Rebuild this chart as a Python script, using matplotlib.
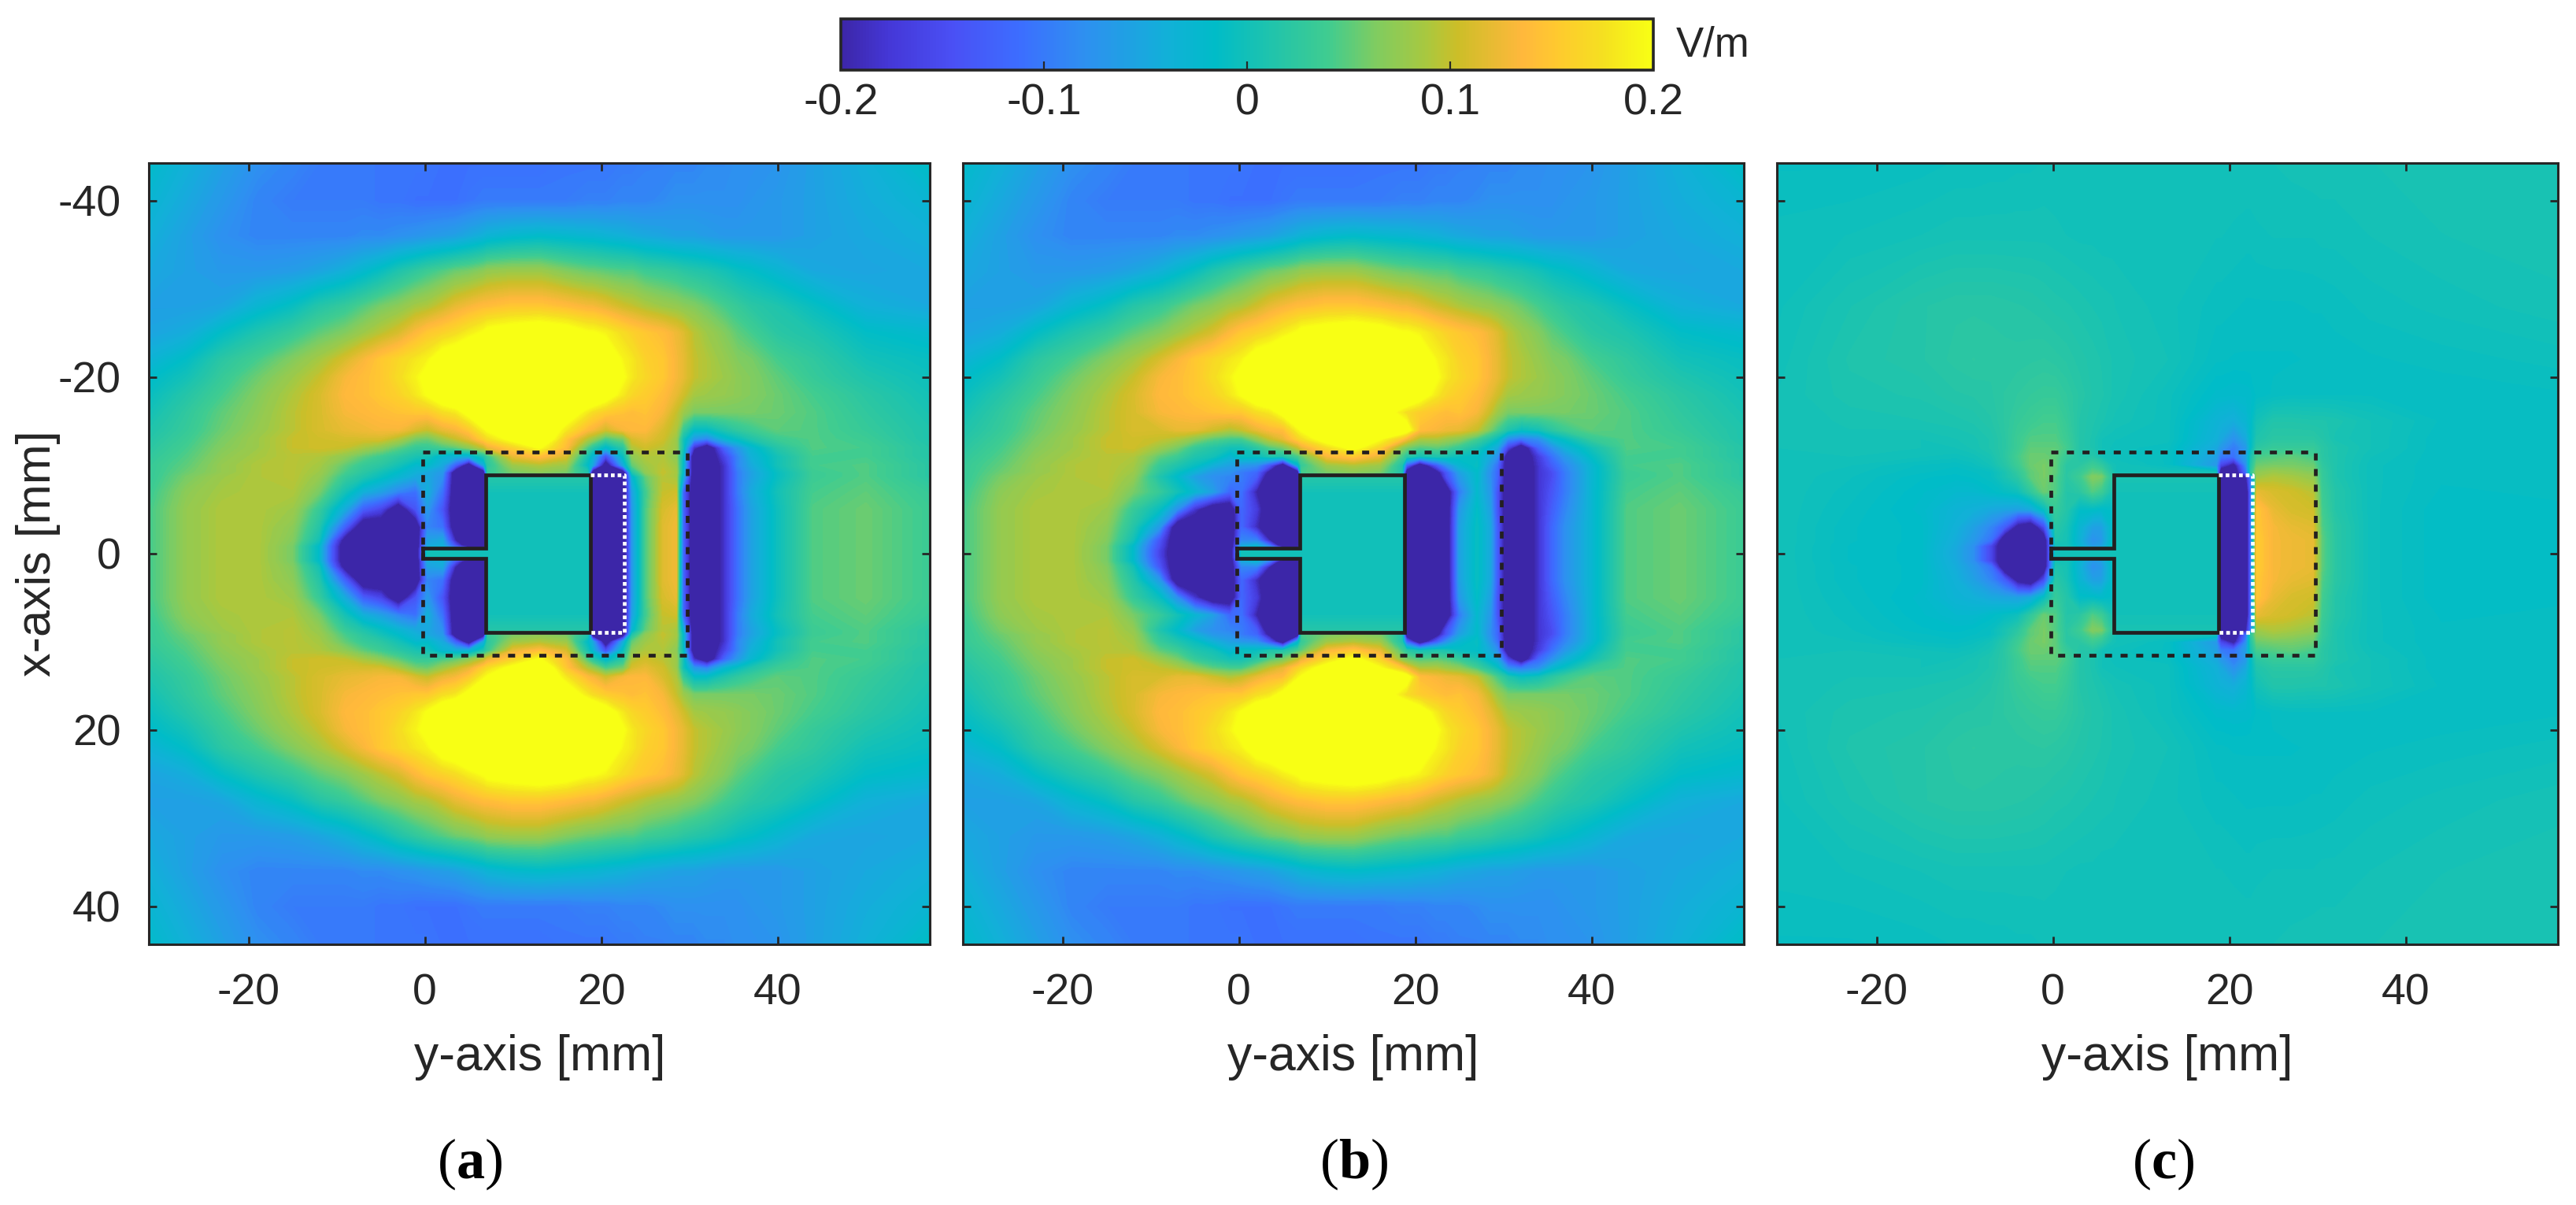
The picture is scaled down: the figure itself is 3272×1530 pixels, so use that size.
import numpy as np
import matplotlib
matplotlib.use("Agg")
import matplotlib.pyplot as plt
from matplotlib.colors import LinearSegmentedColormap, Normalize
from matplotlib.cm import ScalarMappable

plt.rcParams['font.family'] = ['Liberation Sans', 'DejaVu Sans']
plt.rcParams['mathtext.fontset'] = 'custom'
plt.rcParams['mathtext.rm'] = 'Liberation Serif'
plt.rcParams['mathtext.bf'] = 'Liberation Serif:bold'

W, H = 3273, 1530
INK = '#262626'
LINE = '#231f20'

# colour stops
cmap_pos = [0, 0.06, 0.137, 0.22, 0.30, 0.40, 0.46, 0.50, 0.60, 0.66, 0.72, 0.76, 0.84, 0.88, 0.94, 1]
cmap_col = ['#3c26a8', '#4538d8', '#4a50f5', '#3c6eff', '#2e90f0', '#12b0d8', '#00bcc8', '#12c0b8',
            '#40cc90', '#80cc60', '#a8c840', '#ccbe28', '#ffb83c', '#ffc830', '#f5e020', '#f8ff14']

# field values in 0.01 V/m, rows run from the panel edge to the feed line, the lower half mirrors them
y_a = [-31.25, -27, -23, -19, -15, -12, -9, -7, -5, -3, -1, 0.3, 2, 3.5, 5, 6.7, 7.1, 10, 13,
       16, 18.5, 19, 20.5, 22.5, 23.5, 25, 27, 28.5, 29.3, 30.5, 32, 34, 35.5, 37, 40, 44, 50, 57.25]
x_a = [44.3, 40, 36, 32, 28, 25, 22, 20, 18, 16, 14, 13, 12, 11, 10, 9.2, 8.7, 7, 5, 3, 1.5, 0.85, 0.35]

field_a = [
    [-2, -4, -6, -8, -9, -10, -10, -10, -10.5, -10.5, -10.5, -10.5, -11, -11, -11, -11, -11, -11, -11,
     -10.5, -10.5, -10.5, -10.5, -10, -10, -9.5, -9.5, -9, -9, -9, -8.5, -8.5, -8, -8, -7.5, -6, -4, -1.5],
    [-3, -5, -7, -9, -10, -10, -10, -10, -10.5, -10.5, -11, -11, -11, -11, -10.5, -10, -10, -10, -10,
     -10, -9.5, -9.5, -9.5, -9, -9, -9, -8.5, -8, -8, -8, -8, -8, -8, -7.5, -7, -6, -4.5, -3],
    [-4, -6, -8, -9, -9, -9, -9, -8.5, -8.5, -8, -7.5, -7, -6.5, -6, -5, -4, -3.5, -2.5, -2,
     -2.5, -3, -3, -3.5, -4, -4.5, -5, -5.5, -6, -6, -6, -6.5, -7, -7, -7, -7, -6, -5, -4],
    [-5, -6, -7, -7, -6.5, -5.5, -4, -2.5, -1, 1, 2.5, 3.5, 4.5, 5.5, 6, 7, 7.5, 8, 8,
     6.5, 5.5, 5.5, 5, 4.5, 4.5, 3.5, 3, 2.5, 2, 1.5, 1, 0, -1, -1.5, -3, -5, -5.5, -5],
    [-6, -6, -5.5, -3, -1, 1.5, 3, 4.5, 6, 7, 8.5, 9, 10.5, 12, 13, 14, 14, 15, 15,
     14, 13, 13, 12, 10.5, 10, 9, 8, 7.5, 7, 6.5, 5.5, 4, 3, 2, 1, -1, -4, -5],
    [-5.5, -4.5, -1.5, 1, 3, 5, 6.5, 8, 9.5, 11, 13.5, 15, 16, 17, 18.5, 20, 21, 22, 23,
     22, 20, 20, 19, 17, 16, 15, 14, 12.5, 11.5, 9.5, 8, 6.5, 5, 4, 2, 1, -1.5, -2.5],
    [-3.5, -1.5, 2, 4, 6.5, 8.5, 11, 13, 15, 16.5, 18, 19, 22, 23, 25, 25, 25, 25, 25,
     25, 25, 25, 23, 19, 18, 16, 15, 13, 12, 10, 9, 7.5, 6.5, 6, 4, 2.5, 0, -1],
    [-2, 0, 3, 5.5, 8, 10, 13, 14, 15, 17, 19, 21, 24, 25, 25, 25, 25, 25, 25,
     25, 25, 25, 24, 20, 18, 16.5, 15, 13, 12, 10, 9, 8, 7, 6.5, 5, 3, 1, -0.5],
    [-1, 1.5, 4, 6.5, 9, 11, 13.5, 14, 15, 16, 18, 20, 23, 25, 25, 25, 25, 25, 25,
     25, 25, 25, 22, 18, 16.5, 15.5, 14, 12, 10.5, 8.5, 8, 7.5, 7, 6.5, 5.5, 4, 2, 0],
    [0, 2.5, 5, 7, 9.5, 11, 13, 13.5, 14, 14.5, 15, 15, 17, 18, 21, 25, 25, 25, 25,
     23, 18, 17, 15.5, 14.5, 14, 14.5, 13, 10, 8, 6, 6, 6, 6, 6, 5.5, 4.5, 2.5, 0.5],
    [1, 3, 5.5, 7.5, 9.5, 11, 12, 12.5, 13, 13, 11, 10, 12, 13, 15, 19, 20, 23, 25,
     18, 13.5, 13, 10.5, 13, 13.5, 13.5, 11, 9, 3, -1.5, -1.5, 1, 2.5, 3.5, 5, 4.5, 3, 1],
    [1.5, 3.5, 6, 8, 10, 10.5, 11, 11, 11, 9, 6, 5.5, 8, 10, 12, 16, 17, 21, 25,
     15, 9, 8, 4, 6, 11, 12, 10.5, 8, 0, -7, -9, -3, -1, 1, 3.5, 4.5, 3.5, 1],
    [2, 4, 6.5, 8, 10, 10.5, 10, 8.5, 7, 5, 3, 3, 4, 5, 7, 10, 12, 16, 20,
     14, 4, 2, -2.5, 2, 9, 10.5, 9.5, 8, 0, -18, -25, -12, -7, -3, 1.5, 4.5, 4, 1.5],
    [2.5, 4.5, 7, 8.5, 9.5, 9, 7, 5, 3.5, 2, 0.5, 0, -3, -4, -4, 1, 3, 12, 14,
     11, 0, -3, -15, -1, 7, 9, 9, 7, -1, -25, -25, -16, -9, -4, 0, 4, 4, 1.5],
    [3, 5, 7.5, 9, 9.5, 8.5, 5, 3, 2, 0, -2.5, -2, -5, -13, -25, -5, 2, 8, 9,
     8, -2, -5, -25, -5, 5, 8, 9.5, 8, -2, -25, -25, -18, -9, -5, 0, 4, 4.5, 2],
    [3, 5.5, 7.5, 9, 9.5, 8, 4, 2, 0, -2, -4, -5, -7, -25, -25, -25, 3, 6, 7,
     6, 1, -25, -25, -25, 1, 7, 10, 8.5, -2, -25, -25, -18, -10, -6, -1, 3.5, 4.5, 2],
    [3, 6, 8, 9, 9.5, 7.5, 3, 1, -1, -3, -5, -5, -8, -25, -25, -25, 1.5, 1.5, 1.5,
     1.5, 1.5, -25, -25, -25, -3, 5, 9.5, 8.5, -4, -25, -25, -18, -10, -6, -1, 3.5, 4.5, 2],
    [3.5, 7, 8.5, 9, 9, 6, 0, -4, -6, -9, -11, -4, -11, -25, -25, -25, 0, 0, 0,
     0, 0, -25, -25, -25, -6, 3.5, 10, 10.5, -12, -25, -25, -18, -10, -5, 0, 4, 5, 3],
    [4, 7.5, 9, 9, 8, 3, -5, -13, -16, -25, -14, -7, -14, -25, -25, -25, 0, 0, 0,
     0, 0, -25, -25, -25, -7, 4, 11, 12, -12, -25, -25, -18, -11, -6, -0.5, 4.5, 5.5, 3.5],
    [4, 7.5, 9, 9, 7, 1.5, -13, -25, -25, -25, -25, -9, -11, -25, -25, -25, 0, 0, 0,
     0, 0, -25, -25, -25, -7, 4, 11.5, 12.5, -12, -25, -25, -18, -11, -6, -0.5, 4.5, 5.5, 3.5],
    [4, 7.5, 9, 9, 6.5, 0, -23, -25, -25, -25, -25, -6, -5, -20, -25, -25, 0, 0, 0,
     0, 0, -25, -25, -25, -7, 4, 11.5, 12.5, -12, -25, -25, -18, -11, -6, -0.5, 4.5, 5.5, 3.5],
    [4, 7.5, 9, 9, 6, -2, -25, -25, -25, -25, -25, -5, -4, -14, -25, -25, 0, 0, 0,
     0, 0, -25, -25, -25, -7, 4, 11.5, 12.5, -12, -25, -25, -18, -11, -6, -0.5, 4.5, 5.5, 3.5],
    [4, 7.5, 9, 9, 6, -2, -25, -25, -25, -25, -25, 0, 0, 0, 0, 0, 0, 0, 0,
     0, 0, -25, -25, -25, -7, 4, 11.5, 12.5, -12, -25, -25, -18, -11, -6, -0.5, 4.5, 5.5, 3.5],
]

# panel b only differs from a around the antenna: rows x = 14 to 0.35, columns y = -9 to 40
near_b = [
    [11, 12, 12, 10.5, 9, 10, 12, 13.5, 14, 19, 20, 24, 25, 25, 23, 22, 14, 13, 12.5, 12, 10, 6, 4, 1, -1, 0, 2, 3.5, 5],
    [10, 9, 7, 5, 4, 4, 7, 10, 12, 16, 17, 22, 25, 20, 15, 13, 9, 9, 8, 7, 4, 1, -1, -8, -10, -8, -3, -1, 3],
    [8, 6, 3, 1.5, 0, 0, 2, 4.5, 6, 10, 12, 17, 21, 16, 7, 6, 4.5, 5, 4.5, 3, 0.5, -3, -5, -16, -25, -12, -8, -4, 0],
    [5, 3.5, 1, 0, -3, -1, -1, 1, 1, 4, 5, 13, 15, 12, 4, 2, 0, 1, 0.5, -1, -1.5, -5, -8, -25, -25, -17, -11, -7, -1.5],
    [3, 1, -1, -4, -6, -7, -8, -14, -25, -3, 3, 8, 9, 8, 1, -12, -25, -13, -8, -3, -1, -7, -11, -25, -25, -18, -13, -9, -3],
    [2, -1, -4, -7, -8, -10, -12, -22, -25, -25, 4, 6, 7, 6, 1, -25, -25, -22, -14, -6, -2, -8, -12, -25, -25, -18, -15, -10, -3],
    [1, -2, -6, -8, -9, -10, -13, -25, -25, -25, 1.5, 1.5, 1.5, 1.5, 1.5, -25, -25, -25, -15, -7, -2, -8, -12, -25, -25, -18, -15, -10, -3],
    [3, 0, -3, -6, -12, -11, -20, -25, -25, -25, 0, 0, 0, 0, 0, -25, -25, -25, -25, -10, -2.5, -7, -14, -25, -25, -18, -14, -10, -3],
    [-1, -8, -18, -25, -25, -12, -17, -25, -25, -25, 0, 0, 0, 0, 0, -25, -25, -25, -25, -7, -1.5, -6, -14, -25, -25, -18, -13, -9, -3],
    [-7, -25, -25, -25, -25, -12, -19, -25, -25, -25, 0, 0, 0, 0, 0, -25, -25, -25, -25, -6, -1, -5, -13, -25, -25, -18, -12, -8, -3],
    [-14, -25, -25, -25, -25, -9, -9, -20, -25, -25, 0, 0, 0, 0, 0, -25, -25, -25, -25, -6, -1, -5, -13, -25, -25, -18, -12, -8, -3],
    [-15, -25, -25, -25, -25, -5, -3, -10, -25, -25, 0, 0, 0, 0, 0, -25, -25, -25, -25, -6, -1, -5, -13, -25, -25, -18, -12, -8, -3],
    [-16, -25, -25, -25, -25, 0, 0, 0, 0, 0, 0, 0, 0, 0, 0, -25, -25, -25, -25, -6, -1, -5, -13, -25, -25, -18, -12, -8, -3],
]

y_c = [-31.25, -23, -15, -11, -9, -7, -5.5, -4, -2.5, -1, 0.3, 1.5, 3, 4.5, 5.5, 6.7, 7.1, 13, 18.5,
       19, 20.5, 21.9, 22.4, 23.1, 25, 27, 29.5, 30.5, 32, 36, 44, 57.25]
x_c = [44.3, 36, 28, 22, 18, 15, 13, 12, 11, 10, 9.2, 8.7, 7, 5, 3, 1.5, 0.85, 0.35]

field_c = [
    [-1, -1, -0.8, -0.6, -0.6, -0.5, -0.5, -0.4, -0.4, -0.3, -0.3, -0.3, -0.2, -0.2, -0.2, -0.2, -0.2, -0.2, -0.1,
     0, 0, 0, 0, 0, 0, 0.1, 0.2, 0.2, 0.2, 0.3, 0.5, 0.6],
    [-0.5, -0.3, 0, 0.2, 0.2, 0.2, 0.2, 0.2, 0.2, 0.2, 0.1, 0, -0.1, -0.1, -0.2, -0.2, -0.2, -0.3, -0.3,
     -0.3, -0.4, -0.5, -0.5, -0.4, -0.3, -0.3, -0.3, -0.2, -0.2, 0, 0.3, 0.5],
    [-0.4, 0.6, 1.5, 1.8, 1.8, 1.8, 1.7, 1.6, 1.5, 1.3, 1.1, 1, 0.8, 0.6, 0.5, 0.4, 0.3, -0.2, -0.8,
     -0.8, -0.9, -1, -1, -1, -1, -1, -0.9, -0.9, -0.8, -0.5, -0.2, 0.2],
    [-0.2, 1, 1.5, 2, 2.2, 2, 2, 2, 2.1, 2.2, 2, 1.8, 1.4, 1.1, 0.9, 0.6, 0.5, 0, -1.2,
     -1.2, -1.3, -1.3, -1.3, -1.3, -1.3, -1.3, -1.2, -1.2, -1.1, -1, -0.8, -0.5],
    [0, 0.8, 1, 1.5, 1.6, 1.8, 2.2, 2.5, 2.8, 3, 3, 2.5, 1.8, 1.2, 1, 0.6, 0.5, -0.5, -2,
     -2, -2.2, -2.1, -2, -1.5, -1.2, -1, -1, -1, -1, -1, -1.2, -1],
    [0, 0.4, 0.6, 0.8, 1, 1.5, 2.2, 3, 3.5, 4, 4, 3, 1.5, 1, 0.7, 0.3, 0.2, -0.5, -3.5,
     -3.8, -4.5, -3, -2, 0, 1.2, 1.2, 1, 1, 0.8, 0, -1, -1.2],
    [0, 0.2, 0, 0.3, 0.5, 1, 2, 3.5, 4.5, 4.5, 4.5, 3.5, 1.5, 0.8, 0, -0.2, -0.3, -0.5, -4,
     -5, -8, -5, -2, 1, 2, 2, 2, 1.5, 0.5, 0, -1.2, -1.2],
    [0, 0.1, 0, 0, 0.4, 1, 2, 3.5, 5, 5, 5, 4, 1.5, 0.8, 0, -0.4, -0.5, -0.8, -5,
     -7, -10, -7, -2, 2, 3, 3, 3, 2, 1, 0, -1.2, -1.2],
    [0, 0, -0.3, -0.5, -0.2, 0.5, 2, 4, 5.5, 5.5, 5, 3, 1.5, 1.5, 0, -0.4, -0.5, -1, -6,
     -10, -11, -6, 0, 4, 4.5, 5, 4, 2, 1, -0.3, -1.2, -1.2],
    [0, -0.3, -1, -1.2, -0.8, 0, 1.5, 3.5, 5.5, 6, 5, 2, 2, 3.5, 2.5, 0.2, 0, -1, -7,
     -16, -22, -8, 1, 5.5, 6, 6, 5.5, 2.5, 1, -0.5, -1.2, -1.2],
    [0, -0.5, -1.2, -1.5, -1.3, -1, 0.5, 2.5, 5, 6, 5, 2, 3, 5, 4.5, 1, 0, 0, 0,
     -25, -25, -11, 2, 7, 8, 7.5, 6.5, 3, 1, -0.5, -1.2, -1.2],
    [0, -0.6, -1.5, -1.7, -1.5, -1, 0.5, 2, 5, 6, 4.5, 2, 3.5, 6.5, 6, 2, 0.5, 0.5, 0.5,
     -25, -25, -20, -11, 8, 9, 8.5, 7.5, 3, 1, -0.5, -1.2, -1.2],
    [0, -0.8, -1.8, -2.5, -2.5, -1.8, -1.2, -0.5, 2.5, 5.5, 4.5, 1.5, 2, 4.5, 3.5, 0.5, 0, 0, 0,
     -25, -25, -25, -12, 12, 11, 10.5, 9.5, 3.5, 1.5, -0.5, -1.3, -1.2],
    [0, -1, -2, -3.5, -4, -5, -5.5, -6, -5, -1, 3, 1.5, -1.5, -1.5, -2, -1.5, 0, 0, 0,
     -25, -25, -25, -12, 15, 12, 11, 10.5, 4, 1.5, -0.5, -1.5, -1.3],
    [0, -1.2, -1.7, -4, -6, -9, -13, -22, -25, -15, 2, 0.5, -3, -6, -6, -2, 0, 0, 0,
     -25, -25, -25, -12, 15, 13, 12, 11.5, 4.5, 2, -0.5, -1.5, -1.3],
    [0, -1.2, -1.7, -4.5, -7, -11, -25, -25, -25, -25, 1, 0.3, -3.5, -8, -7, -1.5, 0, 0, 0,
     -25, -25, -25, -12, 15.5, 13, 12.5, 12, 5, 2, -0.5, -1.5, -1.3],
    [0, -1.3, -1.7, -4.8, -8, -16, -25, -25, -25, -25, 0, 0.3, -3, -7, -6, -1, 0, 0, 0,
     -25, -25, -25, -12, 15.5, 13, 12.5, 12, 5, 2, -0.5, -1.5, -1.3],
    [0, -1.3, -1.7, -5, -8, -16, -25, -25, -25, -25, 0, 0, 0, 0, 0, 0, 0, 0, 0,
     -25, -25, -25, -12, 15.5, 13, 12.5, 12, 5, 2, -0.5, -1.5, -1.3],
]

# antenna outline in mm (y, x)
patch_y = [-0.2, 6.9, 6.9, 18.75, 18.75, 6.9, 6.9, -0.2, -0.2]
patch_x = [-0.6, -0.6, -8.93, -8.93, 8.93, 8.93, 0.6, 0.6, -0.6]
box_y = [-0.2, 29.8, 29.8, -0.2, -0.2]
box_x = [-11.5, -11.5, 11.5, 11.5, -11.5]
slot_y = [18.75, 22.65, 22.65, 18.75]
slot_x = [-8.93, -8.93, 8.93, 8.93]

xticks = [-20, 0, 20, 40]
yticks = [-40, -20, 0, 20, 40]
cbar_ticks = [-0.2, -0.1, 0, 0.1, 0.2]
cbar_labels = ['-0.2', '-0.1', '0', '0.1', '0.2']


def mirror(field, x):
    field = np.array(field) * 0.01
    x = np.array(x)
    full_x = np.concatenate([-x, x[::-1]])
    full = np.vstack([field, field[::-1]])
    return full_x, full


def add_axes(fig, left, top, right, bottom):
    return fig.add_axes([left / W, 1 - bottom / H, (right - left) / W, (bottom - top) / H])


def draw_panel(ax, y, x, z, slot, letter, letter_px):
    ax.contourf(y, x, z, levels=np.linspace(-0.2, 0.2, 129), cmap=cmap, norm=norm, extend='both')
    ax.set_xlim(-31.25, 57.25)
    ax.set_ylim(44.3, -44.3)
    ax.plot(box_y, box_x, color=LINE, lw=3.4, dashes=(1.9, 2.3), dash_capstyle='butt')
    ax.plot(patch_y, patch_x, color=LINE, lw=3.4, solid_joinstyle='miter')
    if slot:
        ax.plot(slot_y, slot_x, color='white', lw=3.4, dashes=(1.0, 0.8), dash_capstyle='butt')
    ax.set_xticks(xticks)
    ax.set_xticklabels([str(t) for t in xticks])
    ax.set_yticks(yticks)
    ax.tick_params(direction='in', length=7.2, width=2.0, colors=INK, labelsize=40,
                   top=True, right=True, pad=26)
    ax.set_xlabel('y-axis [mm]', fontsize=45, color=INK, labelpad=19)
    for s in ax.spines.values():
        s.set_linewidth(2.2)
        s.set_color(INK)
    fig.text(letter_px / W, 1 - 1478 / H, r'($\mathbf{%s}$)' % letter, family='Liberation Serif',
             fontsize=52, color='black', ha='center', va='center')


cmap = LinearSegmentedColormap.from_list('field', list(zip(cmap_pos, cmap_col)), N=256)
norm = Normalize(-0.2, 0.2)

fig = plt.figure(figsize=(W / 100, H / 100), dpi=100)

x_full, z_a = mirror(field_a, x_a)

# panel b starts as a copy of a, only the near field is replaced
field_b = np.array(field_a, dtype=float)
field_b[10:23, 6:35] = np.array(near_b)
x_full_b, z_b = mirror(field_b, x_a)

x_full_c, z_c = mirror(field_c, x_c)

ax1 = add_axes(fig, 189.5, 206.5, 1181, 1199)
draw_panel(ax1, y_a, x_full, z_a, True, 'a', 597)
ax1.set_yticklabels([str(t) for t in yticks])
ax1.set_ylabel('x-axis [mm]', fontsize=44, color=INK, labelpad=-3)

ax2 = add_axes(fig, 1223.5, 206.5, 2215, 1199)
draw_panel(ax2, y_a, x_full_b, z_b, False, 'b', 1720)
ax2.set_yticklabels([])

ax3 = add_axes(fig, 2257.5, 206.5, 3249, 1199)
draw_panel(ax3, y_c, x_full_c, z_c, True, 'c', 2748)
ax3.set_yticklabels([])

cax = add_axes(fig, 1068, 24, 2100, 89)
cb = fig.colorbar(ScalarMappable(norm=norm, cmap=cmap), cax=cax, orientation='horizontal')
cb.set_ticks(cbar_ticks)
cb.set_ticklabels(cbar_labels)
cb.ax.tick_params(direction='in', length=8, width=1.6, colors=INK, labelsize=40, pad=12)
cb.outline.set_linewidth(2.6)
cb.outline.set_edgecolor(INK)
fig.text(2129 / W, 1 - 58 / H, 'V/m', fontsize=38, color=INK, ha='left', va='center')

fig.savefig('out.png', dpi=100)
